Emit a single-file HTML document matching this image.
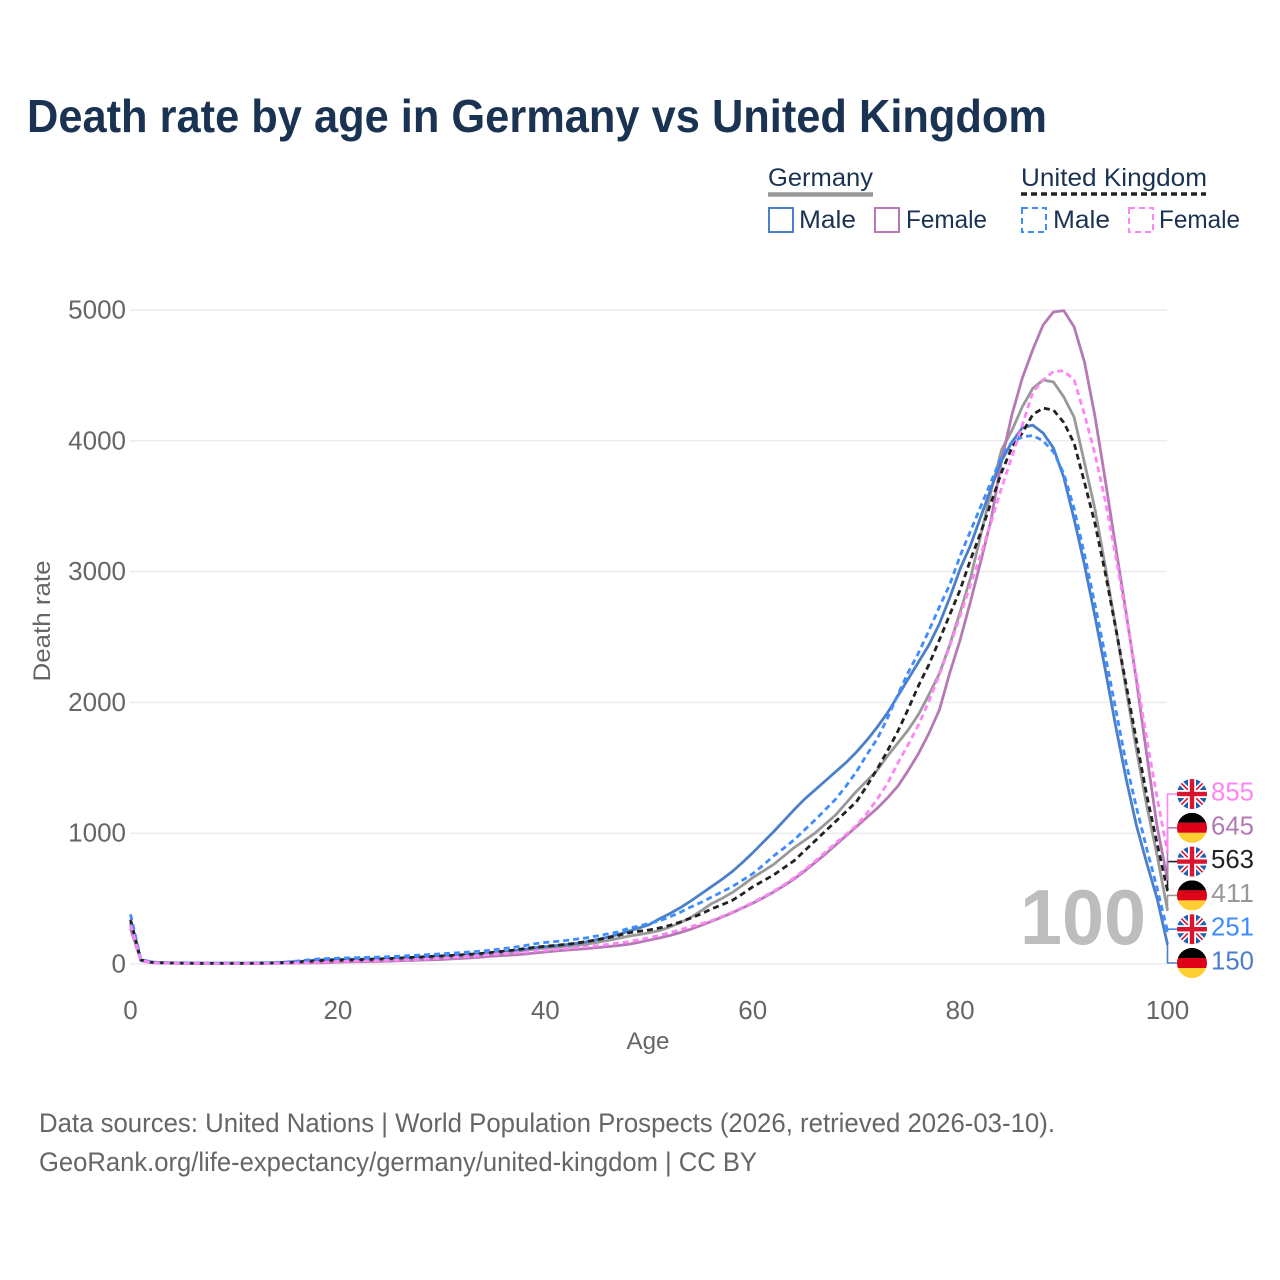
<!DOCTYPE html>
<html lang="en">
<head>
<meta charset="utf-8">
<title>Death rate by age in Germany vs United Kingdom</title>
<style>
html,body{margin:0;padding:0;background:#fff;width:1280px;height:1280px;overflow:hidden}
svg{display:block}
text{font-family:"Liberation Sans",sans-serif}
</style>
</head>
<body>
<svg id="chart" xmlns="http://www.w3.org/2000/svg" width="1280" height="1280" viewBox="0 0 1280 1280">
  <rect width="1280" height="1280" fill="#fff"/>
  <text x="27" y="132" font-size="46" font-weight="700" fill="#1a3352" textLength="1020" lengthAdjust="spacingAndGlyphs">Death rate by age in Germany vs United Kingdom</text>

  <g>
    <text x="768" y="186" font-size="25" fill="#1a3352" textLength="105" lengthAdjust="spacingAndGlyphs">Germany</text>
    <line x1="768" y1="194.5" x2="873" y2="194.5" stroke="#999" stroke-width="4.5"/>
    <text x="1021" y="186" font-size="25" fill="#1a3352" textLength="186" lengthAdjust="spacingAndGlyphs">United Kingdom</text>
    <line x1="1021" y1="194" x2="1206" y2="194" stroke="#222" stroke-width="3.5" stroke-dasharray="6 4"/>

    <rect x="769" y="208" width="24" height="24" fill="none" stroke="#4c7fc9" stroke-width="2"/>
    <text x="799" y="228" font-size="25" fill="#1a3352" textLength="57" lengthAdjust="spacingAndGlyphs">Male</text>
    <rect x="875" y="208" width="24" height="24" fill="none" stroke="#b57ab5" stroke-width="2"/>
    <text x="906" y="228" font-size="25" fill="#1a3352" textLength="81" lengthAdjust="spacingAndGlyphs">Female</text>
    <rect x="1022" y="208" width="24" height="24" fill="none" stroke="#3f8cff" stroke-width="2" stroke-dasharray="6 4"/>
    <text x="1053" y="228" font-size="25" fill="#1a3352" textLength="57" lengthAdjust="spacingAndGlyphs">Male</text>
    <rect x="1129" y="208" width="24" height="24" fill="none" stroke="#ff85f5" stroke-width="2" stroke-dasharray="6 4"/>
    <text x="1159" y="228" font-size="25" fill="#1a3352" textLength="81" lengthAdjust="spacingAndGlyphs">Female</text>
  </g>

  <g id="grid"></g>
  <g id="yticks"></g>
  <g id="xticks"></g>
  <text transform="translate(50,621) rotate(-90)" text-anchor="middle" font-size="24" fill="#666" textLength="121" lengthAdjust="spacingAndGlyphs">Death rate</text>
  <text x="648" y="1049" text-anchor="middle" font-size="24" fill="#666" textLength="43" lengthAdjust="spacingAndGlyphs">Age</text>

  <text x="1020" y="944" font-size="78" font-weight="700" fill="#bdbdbd" textLength="126" lengthAdjust="spacingAndGlyphs">100</text>

  <defs>
    <clipPath id="flag-clip"><circle cx="0" cy="0" r="15"/></clipPath>
  </defs>

  <g id="series"></g>
  <g id="leaders"></g>
  <g id="endlabels"></g>

  <text x="39" y="1132" font-size="27" fill="#666" textLength="1016" lengthAdjust="spacingAndGlyphs">Data sources: United Nations | World Population Prospects (2026, retrieved 2026-03-10).</text>
  <text x="39" y="1171" font-size="27" fill="#666" textLength="718" lengthAdjust="spacingAndGlyphs">GeoRank.org/life-expectancy/germany/united-kingdom | CC BY</text>
</svg>

<script>
const xTickLabels = [0, 20, 40, 60, 80, 100];
const yTickLabels = [0, 1000, 2000, 3000, 4000, 5000];

const germanyTotal = [
  300,28,12,8,7,6,6,5,5,5,
  5,5,6,6,8,10,13,16,20,22,
  24,26,28,30,33,36,39,42,45,48,
  52,56,60,65,71,78,85,93,103,115,
  120,125,132,140,152,165,180,195,212,225,
  238,255,282,315,355,405,460,500,545,600,
  660,710,760,825,890,945,1000,1070,1140,1230,
  1320,1400,1480,1590,1690,1790,1910,2060,2220,2440,
  2690,2950,3280,3620,3930,4080,4260,4400,4465,4450,
  4335,4180,3830,3480,3040,2580,2100,1640,1210,830,411];
const germanyFemale = [
  270,25,10,7,6,5,5,4,4,4,
  4,4,4,5,5,6,7,8,9,10,
  15,16,17,18,20,22,25,27,30,32,
  35,39,43,48,54,60,65,70,76,84,
  92,100,106,112,118,125,133,141,150,165,
  182,199,218,240,265,295,325,357,390,427,
  465,505,550,598,650,710,775,840,910,980,
  1050,1120,1190,1270,1360,1480,1610,1765,1942,2225,
  2477,2770,3080,3400,3850,4200,4480,4695,4885,4985,
  4995,4870,4600,4190,3700,3190,2690,2170,1600,1050,645];
const germanyMale = [
  320,30,15,10,8,7,6,6,6,6,
  6,6,7,8,10,14,18,24,30,33,
  35,36,37,38,40,42,44,46,49,53,
  58,62,67,72,78,85,93,102,112,125,
  133,140,148,158,170,187,205,225,250,275,
  300,345,385,430,480,535,590,645,705,775,
  850,930,1010,1095,1180,1260,1330,1400,1470,1540,
  1620,1710,1810,1920,2050,2180,2310,2440,2600,2800,
  3020,3200,3420,3640,3850,3990,4100,4120,4060,3945,
  3720,3400,3050,2660,2250,1820,1420,1060,770,500,150];
const ukTotal = [
  340,32,14,10,8,7,6,6,6,6,
  6,6,6,7,9,11,15,20,25,28,
  30,31,33,35,38,42,46,50,54,58,
  62,66,71,76,82,90,98,107,118,128,
  135,142,150,160,172,185,200,218,238,250,
  260,275,295,320,350,382,420,452,485,535,
  590,635,680,735,790,865,940,1015,1090,1165,
  1240,1360,1490,1630,1780,1950,2130,2290,2477,2670,
  2860,3090,3300,3530,3760,3950,4060,4200,4250,4235,
  4140,3980,3680,3370,2990,2570,2140,1710,1290,920,563];
const ukMale = [
  380,35,16,11,9,8,7,7,7,7,
  7,7,8,9,11,15,22,30,38,42,
  45,47,49,51,53,56,60,64,69,73,
  78,83,88,94,100,108,118,128,140,155,
  165,172,180,190,200,215,230,245,272,290,
  310,329,360,395,435,470,510,550,590,640,
  690,755,825,885,950,1025,1100,1180,1260,1360,
  1470,1600,1720,1880,2060,2230,2380,2550,2730,2900,
  3120,3310,3500,3690,3880,3990,4030,4040,4000,3915,
  3750,3480,3130,2750,2360,1950,1540,1200,880,580,251];
const ukFemale = [
  300,28,11,8,6,5,5,5,4,4,
  4,4,5,5,6,7,8,10,12,15,
  20,21,22,24,26,28,31,33,36,40,
  45,50,55,60,67,75,80,85,90,99,
  105,111,118,125,132,140,150,160,170,185,
  200,220,240,262,285,308,330,362,395,432,
  470,512,555,605,660,720,785,855,925,990,
  1060,1150,1260,1380,1537,1680,1830,2010,2210,2430,
  2660,2900,3130,3380,3640,3880,4120,4370,4465,4530,
  4535,4465,4200,3900,3540,3120,2670,2200,1720,1270,855];

const NS = 'http://www.w3.org/2000/svg';
const xScale = function (age) { return 130.5 + age * 10.37; };
const yScale = function (v) { return 964 - v * 0.1308; };

function make(tag, attrs, parent) {
  const el = document.createElementNS(NS, tag);
  for (const k in attrs) el.setAttribute(k, attrs[k]);
  parent.appendChild(el);
  return el;
}

const gridG = document.getElementById('grid');
const yG = document.getElementById('yticks');
const xG = document.getElementById('xticks');

yTickLabels.forEach(function (t) {
  const ln = make('line', {x1: 130, x2: 1167, y1: yScale(t), y2: yScale(t), stroke: '#ececec', 'stroke-width': 1.5}, gridG);
  
  
  const tx = make('text', {x: 126, y: yScale(t) + 8.5, 'text-anchor': 'end', 'font-size': 26, fill: '#666'}, yG);
  
  
  tx.textContent = t;
});

xTickLabels.forEach(function (t) {
  const tx = make('text', {x: xScale(t), y: 1019, 'text-anchor': 'middle', 'font-size': 26, fill: '#666'}, xG);
  
  
  tx.textContent = t;
});

const seriesDefs = [
  {key: 'germany-total', values: germanyTotal, color: '#999999', dash: '', flag: 'de', width: 2.8},
  {key: 'germany-female', values: germanyFemale, color: '#b57ab5', dash: '', flag: 'de', width: 2.8},
  {key: 'germany-male', values: germanyMale, color: '#4c7fc9', dash: '', flag: 'de', width: 2.8},
  {key: 'uk-total', values: ukTotal, color: '#222222', dash: '6 4', flag: 'uk', width: 2.8},
  {key: 'uk-male', values: ukMale, color: '#3f8cff', dash: '6 4', flag: 'uk', width: 2.8},
  {key: 'uk-female', values: ukFemale, color: '#ff85f5', dash: '6 4', flag: 'uk', width: 2.8}
];

const seriesG = document.getElementById('series');
seriesDefs.forEach(function (s) {
  const d = s.values.map(function (v, i) {
    return (i ? 'L' : 'M') + xScale(i).toFixed(2) + ' ' + yScale(v).toFixed(2);
  }).join('');
  const p = make('path', {d: d, fill: 'none', stroke: s.color, 'stroke-width': s.width, 'stroke-linejoin': 'round'}, seriesG);
  if (s.dash) p.setAttribute('stroke-dasharray', s.dash);
  
  
  p.setAttribute('aria-label', s.key);
});

function drawFlag(kind, cx, cy, parent) {
  const g = make('g', {transform: 'translate(' + cx + ',' + cy + ')', 'clip-path': 'url(#flag-clip)'}, parent);
  
  
  if (kind === 'de') {
    make('rect', {x: -15, y: -15, width: 30, height: 10, fill: '#000'}, g);
    make('rect', {x: -15, y: -5, width: 30, height: 10, fill: '#dd0018'}, g);
    make('rect', {x: -15, y: 5, width: 30, height: 10, fill: '#ffce33'}, g);
  } else {
    make('rect', {x: -15, y: -15, width: 30, height: 30, fill: '#1f5fb0'}, g);
    make('line', {x1: -15, y1: -15, x2: 15, y2: 15, stroke: '#fff', 'stroke-width': 5}, g);
    make('line', {x1: -15, y1: 15, x2: 15, y2: -15, stroke: '#fff', 'stroke-width': 5}, g);
    make('line', {x1: -15, y1: -15, x2: 15, y2: 15, stroke: '#d8142e', 'stroke-width': 1.6}, g);
    make('line', {x1: -15, y1: 15, x2: 15, y2: -15, stroke: '#d8142e', 'stroke-width': 1.6}, g);
    make('rect', {x: -15, y: -4, width: 30, height: 8, fill: '#fff'}, g);
    make('rect', {x: -4, y: -15, width: 8, height: 30, fill: '#fff'}, g);
    make('rect', {x: -15, y: -2.2, width: 30, height: 4.4, fill: '#d8142e'}, g);
    make('rect', {x: -2.2, y: -15, width: 4.4, height: 30, fill: '#d8142e'}, g);
  }
}

const leadersG = document.getElementById('leaders');
const endG = document.getElementById('endlabels');
const ranked = seriesDefs.slice().sort(function (a, b) {
  return a.values[a.values.length - 1] - b.values[b.values.length - 1];
});
ranked.forEach(function (s, i) {
  const last = s.values[s.values.length - 1];
  const rowY = 963 - i * 33.8;
  const lead = make('path', {
    d: 'M1166 ' + yScale(last).toFixed(1) + 'H1167.5V' + rowY.toFixed(1) + 'H1177',
    fill: 'none', stroke: s.color, 'stroke-width': 1.6
  }, leadersG);
  
  
  drawFlag(s.flag, 1192, rowY, endG);
  const tx = make('text', {x: 1211, y: rowY + 6.5, 'font-size': 26, fill: s.color, textLength: 43, lengthAdjust: 'spacingAndGlyphs'}, endG);
  
  
  tx.textContent = last;
});
</script>
</body>
</html>
